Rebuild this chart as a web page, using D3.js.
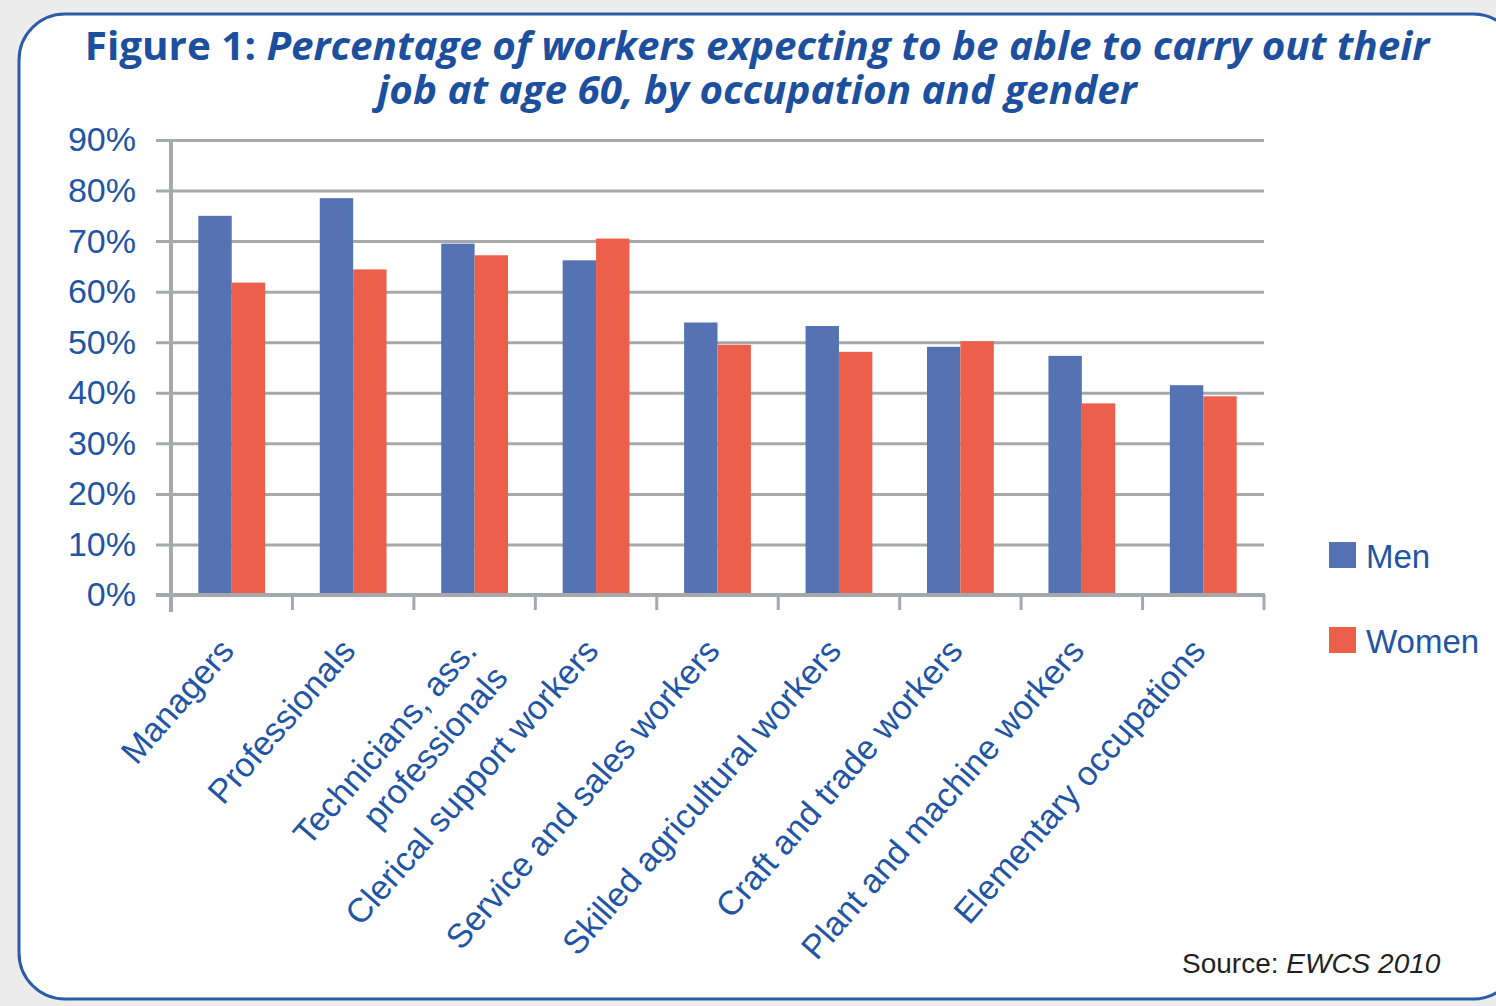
<!DOCTYPE html>
<html>
<head>
<meta charset="utf-8">
<script src="https://cdn.jsdelivr.net/npm/d3@7"></script>
<style>
  html, body { margin: 0; padding: 0; background: #ececec; }
  svg { display: block; }
</style>
</head>
<body>
<div id="chart"></div>
<script>
const occupations = [
  ["Managers"],
  ["Professionals"],
  ["Technicians, ass.", "professionals"],
  ["Clerical support workers"],
  ["Service and sales workers"],
  ["Skilled agricultural workers"],
  ["Craft and trade workers"],
  ["Plant and machine workers"],
  ["Elementary occupations"]
];
const men = [75, 78.5, 69.5, 66.2, 53.9, 53.2, 49.1, 47.3, 41.5];
const women = [61.8, 64.4, 67.2, 70.5, 49.5, 48.1, 50.2, 37.9, 39.3];
const series = ["Men", "Women"];
const yTicks = [0, 10, 20, 30, 40, 50, 60, 70, 80, 90];

const width = 1496, height = 1006;
const blue = "#5573b3", red = "#ec5f4b", grid = "#a7a8ab", textBlue = "#1f55a5";

const svg = d3.select("#chart").append("svg")
  .attr("width", width)
  .attr("height", height);

// frame
svg.append("rect")
  .attr("x", 19).attr("y", 14)
  .attr("width", 1500).attr("height", 985)
  .attr("rx", 46).attr("ry", 46)
  .attr("fill", "white")
  .attr("stroke", "#2a5ca8")
  .attr("stroke-width", 3);

// title: one text, two lines, squeezed to look like a condensed face
const title = svg.append("text")
  .attr("fill", "#1d4f9f")
  .attr("text-anchor", "middle")
  .style("font-family", "'Open Sans', sans-serif")
  .style("font-size", "40px")
  .style("font-weight", 700);

const line1 = title.append("tspan").attr("x", 0).attr("y", 0);
line1.append("tspan").text("Figure 1: ");
line1.append("tspan").style("font-style", "italic")
  .text("Percentage of workers expecting to be able to carry out their");
title.append("tspan").attr("x", 0).attr("y", 44)
  .style("font-style", "italic")
  .text("job at age 60, by occupation and gender");

const w1 = line1.node().getComputedTextLength();
title.attr("transform", `translate(757,60) scale(${1345 / w1},1)`);

// scales
const x = d3.scaleBand()
  .domain(d3.range(occupations.length))
  .range([171, 1264])
  .paddingInner(0.45)
  .paddingOuter(0.225);

const sub = d3.scaleBand()
  .domain(series)
  .range([0, x.bandwidth()]);

const y = d3.scaleLinear().domain([0, 90]).range([595, 140]);

const font = "'Liberation Sans', Arial, sans-serif";

// gridlines + y tick labels
const yAxis = svg.append("g")
  .attr("transform", "translate(171,0)")
  .call(d3.axisLeft(y).tickValues(yTicks).tickSize(-1093).tickSizeOuter(0)
    .tickPadding(35).tickFormat(d => d + "%"));
yAxis.select(".domain").remove();
yAxis.selectAll(".tick line")
  .attr("x1", -15)
  .attr("stroke", grid).attr("stroke-width", 3);
yAxis.selectAll(".tick text")
  .attr("fill", textBlue)
  .style("font-family", font)
  .style("font-size", "34px");

// bars
const groups = svg.append("g").selectAll("g")
  .data(occupations.map((d, i) => ({ i, vals: [men[i], women[i]] })))
  .join("g")
  .attr("transform", d => `translate(${x(d.i)},0)`);

groups.selectAll("rect")
  .data(d => d.vals.map((v, k) => ({ k, v })))
  .join("rect")
  .attr("x", d => sub(series[d.k]))
  .attr("width", sub.bandwidth())
  .attr("y", d => y(d.v))
  .attr("height", d => y(0) - y(d.v))
  .attr("fill", d => d.k === 0 ? blue : red);

// axes lines
svg.append("line")
  .attr("x1", 171).attr("x2", 171)
  .attr("y1", 140).attr("y2", 612)
  .attr("stroke", grid).attr("stroke-width", 4);

svg.append("line")
  .attr("x1", 156).attr("x2", 1265)
  .attr("y1", y(0)).attr("y2", y(0))
  .attr("stroke", grid).attr("stroke-width", 4);

const step = x.step();
svg.append("g").selectAll("line")
  .data(d3.range(1, occupations.length + 1))
  .join("line")
  .attr("x1", d => 171 + d * step).attr("x2", d => 171 + d * step)
  .attr("y1", y(0)).attr("y2", 610)
  .attr("stroke", grid).attr("stroke-width", 3);

// rotated category labels
const labels = svg.append("g")
  .attr("fill", textBlue)
  .style("font-family", font)
  .style("font-size", "34px");

labels.selectAll("text")
  .data(occupations.map((d, i) => ({ i, lines: d })))
  .join("text")
  .attr("text-anchor", "end")
  .attr("transform", d => `translate(${x(d.i) + x.bandwidth() / 2 + 4},${652}) rotate(-49)`)
  .each(function(d) {
    d3.select(this).selectAll("tspan")
      .data(d.lines)
      .join("tspan")
      .attr("x", 0)
      .attr("dy", (t, k) => k === 0 ? 0 : "1.2em")
      .text(t => t);
  });

// legend
const legend = svg.append("g")
  .style("font-family", font)
  .style("font-size", "33px");
const legendY = [542, 627];
series.forEach((s, k) => {
  legend.append("rect")
    .attr("x", 1329).attr("y", legendY[k])
    .attr("width", 27).attr("height", 26)
    .attr("fill", k === 0 ? blue : red);
  legend.append("text")
    .attr("x", 1366).attr("y", legendY[k] + 26)
    .attr("fill", textBlue)
    .text(s);
});

// source
const src = svg.append("text")
  .attr("x", 1182).attr("y", 973)
  .attr("fill", "#231f20")
  .style("font-family", font)
  .style("font-size", "28px");
src.append("tspan").text("Source: ");
src.append("tspan").style("font-style", "italic").text("EWCS 2010");
</script>
</body>
</html>
